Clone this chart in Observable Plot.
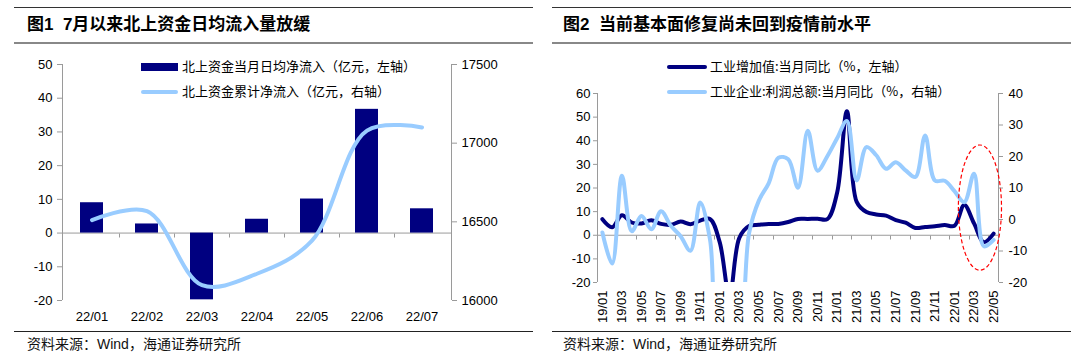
<!DOCTYPE html>
<html>
<head>
<meta charset="utf-8">
<script src="https://cdn.jsdelivr.net/npm/d3@7"></script>
<script src="https://cdn.jsdelivr.net/npm/@observablehq/plot@0.6"></script>
<style>
  html, body { margin: 0; padding: 0; background: #fff; }
  body { width: 1080px; height: 358px; position: relative; overflow: hidden;
         font-family: "Liberation Sans", Arial, "Noto Sans CJK SC", sans-serif; color: #000; }
  .abs { position: absolute; }
  .ruleTop { position: absolute; height: 0; border-top: 1.4px solid #333; }
  .ruleMid { position: absolute; height: 0; border-top: 2px solid #888; }
  .ruleBot { position: absolute; height: 0; border-top: 1.4px solid #222; }
  .title { position: absolute; font-size: 17px; font-weight: 700; line-height: 20px; white-space: pre;
           font-family: "Liberation Sans", Arial, "Noto Sans CJK SC", sans-serif; }
  .source { position: absolute; font-size: 14px; line-height: 16px; white-space: pre;
            font-family: "Liberation Sans", Arial, "Noto Sans CJK SC", sans-serif; color: #111; }
  .leg { position: absolute; font-size: 13px; line-height: 14px; white-space: pre;
         font-family: "Noto Sans CJK SC", sans-serif; color: #000; }
  .sw { position: absolute; }
</style>
</head>
<body>
<div class="ruleTop" style="left:14px;width:519px;top:7px;"></div>
<div class="ruleTop" style="left:552px;width:519px;top:7px;"></div>
<div class="title" style="left:27px;top:15px;">图1  7月以来北上资金日均流入量放缓</div>
<div class="title" style="left:563px;top:15px;">图2  当前基本面修复尚未回到疫情前水平</div>
<div class="ruleMid" style="left:14px;width:519px;top:42px;"></div>
<div class="ruleMid" style="left:552px;width:519px;top:42px;"></div>

<div id="chart1" class="abs" style="left:0px;top:50px;"></div>
<div id="chart2" class="abs" style="left:540px;top:50px;"></div>

<div id="legend1"></div>
<div id="legend2"></div>

<div class="ruleBot" style="left:14px;width:519px;top:331px;"></div>
<div class="ruleBot" style="left:552px;width:519px;top:331px;"></div>
<div class="source" style="left:27px;top:336px;">资料来源：Wind，海通证券研究所</div>
<div class="source" style="left:563px;top:336px;">资料来源：Wind，海通证券研究所</div>

<script>
// ---------------- Chart 1 data ----------------
const months1 = ["22/01", "22/02", "22/03", "22/04", "22/05", "22/06", "22/07"];
const dailyNetInflow = [9.0, 2.7, -19.8, 4.1, 10.1, 36.7, 7.2];          // 亿元, left axis
const cumulativeNetInflow = [16511, 16568, 16098, 16170, 16380, 17080, 17100]; // 亿元, right axis
const leftTicks1 = [-20, -10, 0, 10, 20, 30, 40, 50];
const rightTicks1 = [16000, 16500, 17000, 17500];
const legend1Labels = ["北上资金当月日均净流入（亿元，左轴）", "北上资金累计净流入（亿元，右轴）"];

// ---------------- Chart 2 data ----------------
const months2 = [
  "19/01","19/02","19/03","19/04","19/05","19/06","19/07","19/08","19/09","19/10","19/11","19/12",
  "20/01","20/02","20/03","20/04","20/05","20/06","20/07","20/08","20/09","20/10","20/11","20/12",
  "21/01","21/02","21/03","21/04","21/05","21/06","21/07","21/08","21/09","21/10","21/11","21/12",
  "22/01","22/02","22/03","22/04","22/05"
];
const industrialValueAdded = [   // 工业增加值:当月同比 (%), left axis
  6.8, 3.4, 8.5, 5.4, 5.0, 6.3, 4.8, 4.4, 5.8, 4.7, 6.2, 6.9,
  -3.0, -25.9, -1.1, 3.9, 4.4, 4.8, 4.8, 5.6, 6.9, 6.9, 7.0, 6.8,
  18.0, 52.5, 14.1, 9.8, 8.8, 8.3, 6.4, 5.3, 3.1, 3.5, 3.8, 4.3,
  4.0, 12.8, 5.0, -2.9, 0.7
];
const industrialProfit = [       // 工业企业:利润总额:当月同比 (%), right axis
  -4.1, -14.0, 13.9, -3.7, 1.1, -3.1, 2.6, -2.0, -5.3, -9.9, 5.4, -6.3,
  -38.3, -38.3, -34.9, -4.3, 6.0, 11.5, 19.6, 19.1, 10.1, 28.2, 15.5, 20.1,
  25.8, 31.3, 12.4, 23.0, 20.4, 16.1, 18.2, 15.6, 13.5, 26.7, 12.4, 12.3,
  9.0, 5.5, 14.5, -8.5, -6.5
];
const tickLabels2 = ["19/01","19/03","19/05","19/07","19/09","19/11","20/01","20/03","20/05","20/07","20/09","20/11",
                     "21/01","21/03","21/05","21/07","21/09","21/11","22/01","22/03","22/05"];
const leftTicks2 = [-20, -10, 0, 10, 20, 30, 40, 50, 60];
const rightTicks2 = [-20, -10, 0, 10, 20, 30, 40];
const legend2Labels = ["工业增加值:当月同比（%，左轴）", "工业企业:利润总额:当月同比（%，右轴）"];
// red dashed highlight around the latest months
const highlight = {from: "22/02", to: "22/05", top: 38, bottom: -15};

// ---------------- colours ----------------
const NAVY = "#000080";
const LIGHT = "#99CCFF";
const AXIS = "#9a9a9a";

// ---------------- helpers ----------------
function bandInfo(x, domain) {
  const bw = x.bandwidth ? x.bandwidth() : 0;
  const step = domain.length > 1 ? x(domain[1]) - x(domain[0]) : bw;
  return {bw, step};
}
function sideAxes(color) {
  return (index, scales, values, dim) => {
    const g = d3.create("svg:g").attr("stroke", color).attr("stroke-width", 1);
    const l = dim.marginLeft, r = dim.width - dim.marginRight;
    const t = dim.marginTop, b = dim.height - dim.marginBottom;
    g.append("line").attr("x1", l + 0.5).attr("x2", l + 0.5).attr("y1", t).attr("y2", b);
    g.append("line").attr("x1", r + 0.5).attr("x2", r + 0.5).attr("y1", t).attr("y2", b);
    return g.node();
  };
}
function boundaryTicks(domain, every, color, len) {
  return (index, scales, values, dim) => {
    const x = scales.x, y = scales.y;
    const {bw, step} = bandInfo(x, domain);
    const y0 = Math.round(y(0)) + 0.5;
    const g = d3.create("svg:g").attr("stroke", color).attr("stroke-width", 1);
    for (let i = every; i < domain.length; i += every) {
      const xb = Math.round(x(domain[i]) - (step - bw) / 2) + 0.5;
      g.append("line").attr("x1", xb).attr("x2", xb).attr("y1", y0).attr("y2", y0 + len);
    }
    return g.node();
  };
}

// ---------------- Chart 1 ----------------
const toLeft1 = r => -20 + (r - 16000) * 70 / 1500;
const fromLeft1 = v => 16000 + (v + 20) * 1500 / 70;
const data1 = months1.map((m, i) => ({m, v: dailyNetInflow[i], c: cumulativeNetInflow[i]}));

const chart1 = Plot.plot({
  width: 540, height: 280,
  marginLeft: 62, marginRight: 89, marginTop: 14, marginBottom: 30,
  style: {fontFamily: "Liberation Sans, Arial, sans-serif", fontSize: "13px", color: "#000", background: "transparent", overflow: "visible"},
  x: {type: "band", domain: months1, paddingInner: 0.58, paddingOuter: 0.29, label: null},
  y: {domain: [-20, 50], label: null},
  marks: [
    sideAxes(AXIS),
    Plot.ruleY([0], {stroke: AXIS, strokeWidth: 1}),
    boundaryTicks(months1, 1, AXIS, 4),
    Plot.barY(data1, {x: "m", y: "v", fill: NAVY}),
    Plot.line(data1, {x: "m", y: d => toLeft1(d.c), stroke: LIGHT, strokeWidth: 4, curve: "catmull-rom"}),
    Plot.axisX({anchor: "bottom", tickSize: 0, tickPadding: 11, label: null, fill: "#000"}),
    Plot.axisY(leftTicks1, {anchor: "left", tickSize: 5, tickPadding: 5, stroke: AXIS, fill: "#000",
                            tickFormat: d => String(d), label: null}),
    Plot.axisY(rightTicks1.map(toLeft1), {anchor: "right", tickSize: 5, tickPadding: 5, stroke: AXIS, fill: "#000",
                            tickFormat: v => String(Math.round(fromLeft1(v))), label: null})
  ]
});
document.getElementById("chart1").appendChild(chart1);

// ---------------- Chart 2 ----------------
const toLeft2 = r => -20 + (r + 20) * 80 / 60;
const fromLeft2 = v => -20 + (v + 20) * 60 / 80;
const data2 = months2.map((m, i) => ({m, iva: industrialValueAdded[i], profit: industrialProfit[i]}));

function ellipseMark(ann, domain) {
  return (index, scales, values, dim) => {
    const x = scales.x, y = scales.y;
    const {bw} = bandInfo(x, domain);
    const x0 = x(ann.from), x1 = x(ann.to) + bw;
    const y0 = y(ann.top), y1 = y(ann.bottom);
    return d3.create("svg:ellipse")
      .attr("cx", (x0 + x1) / 2 + 1.5).attr("cy", (y0 + y1) / 2)
      .attr("rx", (x1 - x0) / 2 + 2).attr("ry", (y1 - y0) / 2)
      .attr("fill", "none").attr("stroke", "#FF0000").attr("stroke-width", 1.2)
      .attr("stroke-dasharray", "4,2.5").node();
  };
}

const chart2 = Plot.plot({
  width: 540, height: 280,
  marginLeft: 57, marginRight: 82, marginTop: 43, marginBottom: 48,
  style: {fontFamily: "Liberation Sans, Arial, sans-serif", fontSize: "13px", color: "#000", background: "transparent", overflow: "visible"},
  x: {type: "band", domain: months2, padding: 0, label: null},
  y: {domain: [-20, 60], label: null},
  marks: [
    sideAxes(AXIS),
    Plot.ruleY([0], {stroke: AXIS, strokeWidth: 1}),
    boundaryTicks(months2, 2, AXIS, 4),
    Plot.line(data2, {x: "m", y: "iva", stroke: NAVY, strokeWidth: 4, curve: "catmull-rom", clip: true}),
    Plot.line(data2, {x: "m", y: d => toLeft2(d.profit), stroke: LIGHT, strokeWidth: 4, curve: "catmull-rom", clip: true}),
    ellipseMark(highlight, months2),
    Plot.axisX(tickLabels2, {anchor: "bottom", tickSize: 0, tickPadding: 8, tickRotate: -90, label: null, fill: "#000"}),
    Plot.axisY(leftTicks2, {anchor: "left", tickSize: 4, tickPadding: 3, stroke: AXIS, fill: "#000",
                            tickFormat: d => String(d), label: null}),
    Plot.axisY(rightTicks2.map(toLeft2), {anchor: "right", tickSize: 4, tickPadding: 6, stroke: AXIS, fill: "#000",
                            tickFormat: v => String(Math.round(fromLeft2(v))), label: null})
  ]
});
document.getElementById("chart2").appendChild(chart2);

// ---------------- Legends (HTML) ----------------
function addLegend(container, items) {
  const el = document.getElementById(container);
  for (const it of items) {
    const sw = document.createElement("div");
    sw.className = "sw";
    sw.style.left = it.sx + "px"; sw.style.top = (it.cy - it.sh / 2) + "px";
    sw.style.width = it.sw + "px"; sw.style.height = it.sh + "px";
    sw.style.background = it.color;
    if (it.round) sw.style.borderRadius = (it.sh / 2) + "px";
    el.appendChild(sw);
    const tx = document.createElement("div");
    tx.className = "leg";
    tx.style.left = it.tx + "px"; tx.style.top = (it.cy - 8) + "px";
    tx.textContent = it.label;
    el.appendChild(tx);
  }
}
addLegend("legend1", [
  {label: legend1Labels[0], color: NAVY, sx: 141, sw: 37, sh: 8, cy: 67, tx: 182},
  {label: legend1Labels[1], color: LIGHT, sx: 141, sw: 37, sh: 4, cy: 92, tx: 182, round: true}
]);
addLegend("legend2", [
  {label: legend2Labels[0], color: NAVY, sx: 667, sw: 40, sh: 4, cy: 67, tx: 710, round: true},
  {label: legend2Labels[1], color: LIGHT, sx: 667, sw: 40, sh: 4, cy: 92, tx: 710, round: true}
]);
</script>
</body>
</html>
